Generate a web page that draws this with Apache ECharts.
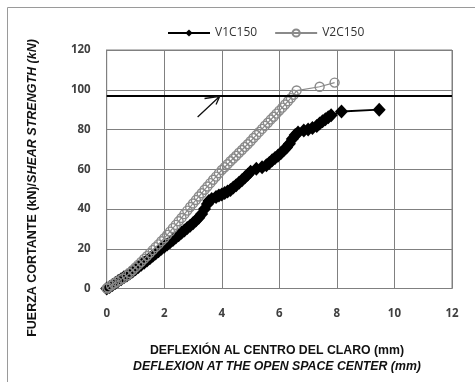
<!DOCTYPE html>
<html>
<head>
<meta charset="utf-8">
<script src="https://cdn.jsdelivr.net/npm/echarts@6/dist/echarts.min.js"></script>
<style>html,body{margin:0;padding:0;background:#fff;}#c{width:475px;height:382px;}</style>
</head>
<body>
<div id="c"></div>
<script>
// ---- data ----
const seriesNames = ['V1C150', 'V2C150'];
const v1x = [0,0.1,0.2,0.3,0.4,0.5,0.6,0.7,0.8,0.9,1.0,1.1,1.2,1.3,1.4,1.5,1.6,1.7,1.8,1.9,2.0,2.1,2.2,2.3,2.4,2.5,2.6,2.7,2.8,2.9,3.0,3.1,3.2,3.3,3.4,3.5,3.55,3.65,3.8,3.9,4.0,4.1,4.2,4.3,4.4,4.5,4.6,4.7,4.8,4.9,5.0,5.2,5.4,5.55,5.65,5.75,5.85,5.95,6.05,6.15,6.25,6.35,6.45,6.55,6.65,6.85,7.0,7.15,7.3,7.4,7.5,7.6,7.7,7.8,8.16,9.47];
const v1y = [0,0.8,1.8,2.8,3.8,4.7,5.7,6.6,7.6,8.6,9.7,10.8,11.9,13.0,14.1,15.2,16.5,17.6,18.8,20.0,21.0,22.2,23.3,24.4,25.6,26.8,28.0,29.2,30.4,31.6,32.8,34.2,35.6,37.5,40.0,42.5,44.0,45.0,46.0,46.8,47.3,48.0,48.8,49.6,50.8,52.0,53.2,54.5,55.8,57.2,58.7,60.2,61.0,62.0,63.2,64.5,65.7,66.8,68.0,69.5,71.0,72.8,75.2,77.2,78.5,79.5,80.0,80.8,81.8,83.0,84.2,85.2,86.2,87.2,89.0,90.0];
const v2x = [0,0.05,0.15,0.25,0.35,0.45,0.55,0.7,0.8,0.9,1.0,1.1,1.2,1.3,1.4,1.5,1.6,1.7,1.8,1.9,2.0,2.1,2.2,2.3,2.4,2.5,2.6,2.7,2.8,2.9,3.0,3.1,3.2,3.3,3.4,3.5,3.6,3.7,3.8,3.9,4.0,4.1,4.2,4.3,4.4,4.5,4.6,4.7,4.8,4.9,5.0,5.1,5.2,5.3,5.4,5.5,5.6,5.7,5.8,5.9,6.0,6.1,6.2,6.3,6.4,6.5,6.6,7.4,7.92];
const v2y = [0,0.5,1.5,2.5,3.4,4.2,5.0,6.5,7.8,9.2,10.6,12.0,13.4,14.9,16.3,17.8,19.3,20.8,22.2,23.8,25.3,27.0,28.6,30.4,32.0,33.8,35.5,37.4,39.2,41.0,42.8,44.5,46.3,47.9,49.7,51.3,53.0,54.7,56.3,58.0,59.6,61.0,62.5,64.0,65.4,66.8,68.3,69.7,71.2,72.6,74.1,75.7,77.2,78.8,80.3,81.9,83.4,85.0,86.4,88.0,89.5,91.0,92.6,94.2,95.8,97.5,99.6,101.5,103.6];
const refLevel = 97;                       // horizontal reference line (kN)
const arrowX = [3.16, 3.93, 3.40, 3.93, 3.80]; // arrow: tail, tip, barb, tip, barb
const arrowY = [86.3, 96.7, 95.6, 96.7, 92.6];
const xTicks = [0, 2, 4, 6, 8, 10, 12];
const yTicks = [0, 20, 40, 60, 80, 100, 120];
const xTitle1 = 'DEFLEXIÓN AL CENTRO DEL CLARO (mm)';
const xTitle2 = 'DEFLEXION AT THE OPEN SPACE CENTER (mm)';
const yTitle1 = 'FUERZA CORTANTE (kN)/';
const yTitle2 = 'SHEAR STRENGTH (kN)';

const zip = (a, b) => a.map((v, i) => [v, b[i]]);

const chart = echarts.init(document.getElementById('c'), null, {renderer: 'canvas'});
const tickFont = {fontFamily: 'Open Sans', fontWeight: 'bold', fontSize: 11.5, color: '#404040'};
chart.setOption({
  animation: false,
  backgroundColor: '#fff',
  legend: {
    data: seriesNames,
    left: 162, top: 22,
    itemWidth: 42, itemHeight: 9, itemGap: 17,
    textStyle: {fontFamily: 'Open Sans', fontSize: 12, color: '#333'}
  },
  grid: {left: 106.7, right: 23, top: 50, bottom: 93.5, containLabel: false,
         show: true, borderColor: '#808080', borderWidth: 1},
  xAxis: {
    type: 'value', min: xTicks[0], max: xTicks[xTicks.length - 1], interval: 2,
    axisLine: {show: true, lineStyle: {color: '#808080'}},
    axisTick: {show: false},
    axisLabel: Object.assign({margin: 19}, tickFont),
    splitLine: {show: true, lineStyle: {color: '#808080', width: 1}}
  },
  yAxis: {
    type: 'value', min: yTicks[0], max: yTicks[yTicks.length - 1], interval: 20,
    axisLine: {show: true, lineStyle: {color: '#808080'}},
    axisTick: {show: false},
    axisLabel: Object.assign({margin: 16}, tickFont),
    splitLine: {show: true, lineStyle: {color: '#808080', width: 1}}
  },
  graphic: [
    {type: 'rect', shape: {x: 7.5, y: 7.5, width: 520, height: 520},
     style: {fill: 'none', stroke: '#9a9a9a', lineWidth: 1}, silent: true, z: -10},
    {type: 'text', x: 277, y: 351,
     style: {text: xTitle1, fontFamily: 'Liberation Sans', fontWeight: 'bold', fontSize: 12.3,
             fill: '#111', align: 'center', verticalAlign: 'middle'}},
    {type: 'text', x: 277, y: 367,
     style: {text: xTitle2, fontFamily: 'Liberation Sans', fontWeight: 'bold', fontStyle: 'italic', fontSize: 12.3,
             fill: '#111', align: 'center', verticalAlign: 'middle'}},
    {type: 'text', x: 33, y: 188, rotation: Math.PI / 2,
     style: {text: '{a|' + yTitle1 + '}{b|' + yTitle2 + '}', align: 'center', verticalAlign: 'middle',
             rich: {
               a: {fontFamily: 'Liberation Sans', fontWeight: 'bold', fontSize: 12.5, fill: '#111', color: '#111'},
               b: {fontFamily: 'Liberation Sans', fontWeight: 'bold', fontStyle: 'italic', fontSize: 12.5, fill: '#111', color: '#111'}
             }}}
  ],
  series: [
    {
      name: seriesNames[0], type: 'line', data: zip(v1x, v1y),
      symbol: 'diamond', symbolSize: [13, 14], showAllSymbol: true,
      lineStyle: {color: '#000', width: 2},
      itemStyle: {color: '#000'},
      markLine: {
        silent: true, symbol: ['none', 'none'], label: {show: false},
        lineStyle: {color: '#000', width: 2, type: 'solid'},
        data: [{yAxis: refLevel}]
      },
      z: 3
    },
    {
      name: seriesNames[1], type: 'line', data: zip(v2x, v2y),
      symbol: 'circle', symbolSize: 9, showAllSymbol: true,
      lineStyle: {color: '#8a8a8a', width: 1.2},
      itemStyle: {color: 'rgba(255,255,255,0)', borderColor: '#8a8a8a', borderWidth: 1.4},
      z: 4
    },
    {
      name: 'arrow', type: 'line', data: zip(arrowX, arrowY),
      symbol: 'none', lineStyle: {color: '#111', width: 1.3}, z: 5, silent: true
    }
  ]
});
</script>
</body>
</html>
